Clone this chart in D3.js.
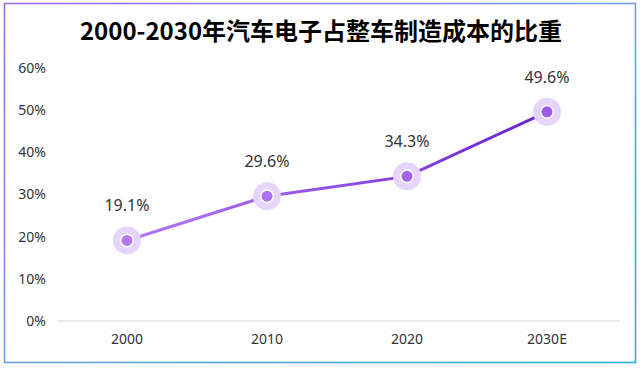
<!DOCTYPE html>
<html><head><meta charset="utf-8">
<script src="https://cdn.jsdelivr.net/npm/d3@7"></script>
<style>
html,body{margin:0;padding:0;background:#fff;}
svg{display:block;font-family:"Noto Sans CJK SC","Noto Sans",sans-serif;}
</style></head>
<body><svg id="c" width="642" height="368"></svg>
<script>
const title = "2000-2030年汽车电子占整车制造成本的比重";
const categories = ["2000","2010","2020","2030E"];
const values = [19.1, 29.6, 34.3, 49.6];
const yTicks = [0,10,20,30,40,50,60];

const svg = d3.select("#c");
const defs = svg.append("defs");
const bg = defs.append("linearGradient").attr("id","bord").attr("x1","0").attr("y1","0").attr("x2","1").attr("y2","1");
bg.append("stop").attr("offset","0%").attr("stop-color","#a569e0");
bg.append("stop").attr("offset","50%").attr("stop-color","#6ea0e8");
bg.append("stop").attr("offset","100%").attr("stop-color","#1fb0d8");
svg.append("rect").attr("x",4.5).attr("y",3.5).attr("width",631).attr("height",359)
  .attr("fill","#fff").attr("stroke","url(#bord)").attr("stroke-width",1.6);

svg.append("text").attr("x",321).attr("y",40).attr("text-anchor","middle")
  .attr("font-size",24).attr("font-weight","bold").attr("fill","#000").text(title);

const x = d3.scaleBand().domain(categories).range([57,617]);
const y = d3.scaleLinear().domain([0,60]).range([321,68]);

svg.append("line").attr("x1",57).attr("x2",620).attr("y1",y(0)).attr("y2",y(0))
  .attr("stroke","#d9d9d9").attr("stroke-width",1);

const lblFont = "'Noto Sans','Noto Sans CJK SC',sans-serif";
const yAxis = d3.axisLeft(y).tickValues(yTicks).tickFormat(d=>d+"%").tickSize(0).tickPadding(0);
const ya = svg.append("g").attr("transform","translate(46,0)").call(yAxis);
ya.select(".domain").remove();
ya.selectAll("text").attr("font-size",14).attr("fill","#333").attr("font-family",lblFont);

const xAxis = d3.axisBottom(x).tickSize(0).tickPadding(0);
const xa = svg.append("g").attr("transform",`translate(0,${y(0)+13})`).call(xAxis);
xa.select(".domain").remove();
xa.selectAll("text").attr("font-size",14).attr("fill","#333").attr("font-family",lblFont);

const lg = defs.append("linearGradient").attr("id","lineg").attr("gradientUnits","userSpaceOnUse")
  .attr("x1",x(categories[0])+x.bandwidth()/2).attr("x2",x(categories[3])+x.bandwidth()/2).attr("y1",0).attr("y2",0);
lg.append("stop").attr("offset","0%").attr("stop-color","#b47af4");
lg.append("stop").attr("offset","100%").attr("stop-color","#6a22d2");

const pts = categories.map((c,i)=>({c, v:values[i], px:x(c)+x.bandwidth()/2, py:y(values[i])}));
svg.append("path").datum(pts).attr("fill","none").attr("stroke","url(#lineg)").attr("stroke-width",3)
  .attr("d", d3.line().x(d=>d.px).y(d=>d.py));

const g = svg.selectAll(".pt").data(pts).join("g").attr("transform",d=>`translate(${d.px},${d.py})`);
g.append("circle").attr("r",14).attr("fill","#e5d4fb");
g.append("circle").attr("r",7).attr("fill","#fff");
g.append("circle").attr("r",5.5).attr("fill",(d,i)=>d3.interpolateRgb("#b47af4","#9b5bee")(i/3));

svg.selectAll(".lbl").data(pts).join("text").attr("x",d=>d.px).attr("y",d=>d.py-29)
  .attr("text-anchor","middle").attr("font-size",16).attr("fill","#333")
  .attr("font-family",lblFont)
  .text(d=>d.v.toFixed(1)+"%");
</script></body></html>
